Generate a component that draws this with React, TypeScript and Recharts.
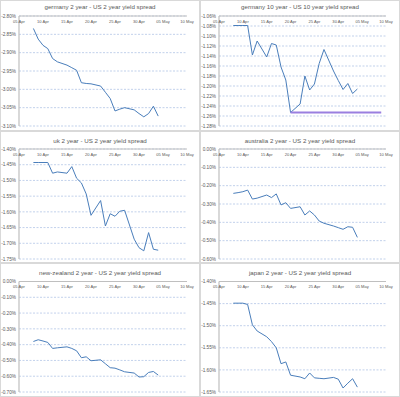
import React from 'react';
import { LineChart, Line, XAxis, YAxis, CartesianGrid } from 'recharts';

// day of April 2020 (31 = 01 May)
const days = [8, 9, 10, 11, 12, 13, 15, 16, 17, 18, 19, 20, 22, 23, 24, 25, 26, 27, 29, 30, 31, 32, 33, 34];
const xTicks = [5, 10, 15, 20, 25, 30, 35, 40];

const germany2y = [-2.834, -2.863, -2.88, -2.889, -2.916, -2.925, -2.934, -2.941, -2.948, -2.982, -2.984, -2.985, -2.991, -3.008, -3.025, -3.059, -3.054, -3.05, -3.056, -3.066, -3.075, -3.066, -3.046, -3.073];
const germany10y = [-1.079, -1.079, -1.079, -1.079, -1.138, -1.11, -1.142, -1.115, -1.118, -1.162, -1.188, -1.253, -1.236, -1.18, -1.208, -1.196, -1.155, -1.127, -1.17, -1.189, -1.207, -1.195, -1.215, -1.206];
const uk2y = [-1.443, -1.443, -1.443, -1.443, -1.477, -1.473, -1.477, -1.456, -1.493, -1.508, -1.543, -1.611, -1.564, -1.645, -1.606, -1.614, -1.598, -1.595, -1.687, -1.714, -1.724, -1.666, -1.719, -1.722];
const australia2y = [-0.242, -0.238, -0.233, -0.224, -0.273, -0.268, -0.251, -0.265, -0.245, -0.305, -0.293, -0.324, -0.315, -0.36, -0.338, -0.36, -0.393, -0.405, -0.42, -0.429, -0.438, -0.424, -0.427, -0.482];
const newZealand2y = [-0.38, -0.369, -0.377, -0.386, -0.424, -0.42, -0.414, -0.424, -0.439, -0.483, -0.477, -0.502, -0.496, -0.521, -0.546, -0.549, -0.56, -0.572, -0.58, -0.605, -0.603, -0.576, -0.57, -0.593];
const japan2y = [-1.449, -1.449, -1.449, -1.452, -1.498, -1.512, -1.525, -1.536, -1.55, -1.586, -1.582, -1.612, -1.616, -1.62, -1.607, -1.618, -1.619, -1.62, -1.617, -1.621, -1.641, -1.63, -1.62, -1.639];

const markerDays = [20, 39];
const markerLevel = [-1.253, -1.253];

const ticksGermany2y = [-2.8, -2.85, -2.9, -2.95, -3.0, -3.05, -3.1];
const ticksGermany10y = [-1.06, -1.08, -1.1, -1.12, -1.14, -1.16, -1.18, -1.2, -1.22, -1.24, -1.26, -1.28];
const ticksUk2y = [-1.4, -1.45, -1.5, -1.55, -1.6, -1.65, -1.7, -1.75];
const ticksAustralia2y = [0, -0.1, -0.2, -0.3, -0.4, -0.5, -0.6];
const ticksNewZealand2y = [0, -0.1, -0.2, -0.3, -0.4, -0.5, -0.6, -0.7];
const ticksJapan2y = [-1.4, -1.45, -1.5, -1.55, -1.6, -1.65];

const titles = [
  'germany 2 year - US 2 year yield spread',
  'germany 10 year - US 10 year yield spread',
  'uk 2 year - US 2 year yield spread',
  'australia 2 year - US 2 year yield spread',
  'new-zealand 2 year - US 2 year yield spread',
  'japan 2 year - US 2 year yield spread',
];

const FONT = '"Liberation Sans", Arial, sans-serif';
const TEXT = '#595959';
const LINE = '#4a7ebb';

const fmtDay = (d: number) => {
  const m = d > 30 ? 'May' : 'Apr';
  const dd = d > 30 ? d - 30 : d;
  return `${String(dd).padStart(2, '0')} ${m}`;
};
const fmtPct = (v: number) => `${v.toFixed(2)}%`;

const toRows = (xs: number[], ys: number[]) => xs.map((d, i) => ({ d, v: ys[i] }));

type PanelProps = {
  title: string;
  values: number[];
  yTicks: number[];
  left: number;
  top: number;
  width: number;
  height: number;
  mt: number;
  mb: number;
  mr: number;
  titleY: number;
  marker?: { d: number; v: number }[];
};

function Panel(p: PanelProps) {
  const data = toRows(days, p.values);
  const ymax = p.yTicks[0];
  const ymin = p.yTicks[p.yTicks.length - 1];
  return (
    <div
      style={{
        position: 'absolute',
        left: p.left,
        top: p.top,
        width: p.width,
        height: p.height,
        boxSizing: 'border-box',
        border: '1px solid #d9d9d9',
        background: '#fff',
      }}
    >
      <div style={{ position: 'absolute', left: -1, top: -1 }}>
        <LineChart
          width={p.width}
          height={p.height}
          margin={{ top: p.mt, right: p.mr, bottom: p.mb, left: 0 }}
        >
          <CartesianGrid
            horizontal
            vertical={false}
            stroke="#a7bde3"
            strokeDasharray="2 1.5"
            strokeWidth={0.7}
          />
          <XAxis
            type="number"
            dataKey="d"
            domain={[5, 40]}
            ticks={xTicks}
            interval={0}
            orientation="top"
            mirror
            tickFormatter={fmtDay}
            tick={{ fontSize: 4.1, fill: TEXT, fontFamily: FONT }}
            tickLine={false}
            tickSize={3}
            tickMargin={1}
            axisLine={{ stroke: '#bfbfbf', strokeWidth: 1 }}
            allowDataOverflow
          />
          <YAxis
            type="number"
            domain={[ymin, ymax]}
            ticks={p.yTicks}
            interval={0}
            tickFormatter={fmtPct}
            tick={{ fontSize: 4.7, fill: TEXT, fontFamily: FONT }}
            tickLine={false}
            tickSize={2}
            tickMargin={1}
            width={19}
            axisLine={{ stroke: '#bfbfbf', strokeWidth: 1.2 }}
            allowDataOverflow
          />
          <Line
            data={data}
            dataKey="v"
            type="linear"
            stroke={LINE}
            strokeWidth={1}
            dot={false}
            isAnimationActive={false}
          />
          {p.marker && (
            <Line
              data={p.marker}
              dataKey="v"
              type="linear"
              stroke="#9a7fe0"
              strokeWidth={2.2}
              dot={false}
              isAnimationActive={false}
            />
          )}
        </LineChart>
      </div>
      <div
        style={{
          position: 'absolute',
          left: 0,
          width: p.width - 2,
          top: p.titleY - 4,
          textAlign: 'center',
          fontFamily: FONT,
          fontSize: 6.2,
          lineHeight: '8px',
          color: TEXT,
          whiteSpace: 'nowrap',
        }}
      >
        {p.title}
      </div>
    </div>
  );
}

export default function App() {
  const marker = toRows(markerDays, markerLevel);
  return (
    <div style={{ position: 'fixed', left: 0, top: 0, width: 400, height: 397, background: '#fff', overflow: 'hidden' }}>
      <Panel title={titles[0]} values={germany2y} yTicks={ticksGermany2y} left={0} top={0} width={200} height={131} mt={16} mb={5} mr={13} titleY={5.5} />
      <Panel title={titles[1]} values={germany10y} yTicks={ticksGermany10y} left={200} top={0} width={200} height={131} mt={16} mb={5} mr={14} titleY={5.5} marker={marker} />
      <Panel title={titles[2]} values={uk2y} yTicks={ticksUk2y} left={0} top={131} width={200} height={132} mt={18} mb={4} mr={13} titleY={8.5} />
      <Panel title={titles[3]} values={australia2y} yTicks={ticksAustralia2y} left={200} top={131} width={200} height={132} mt={18} mb={4} mr={14} titleY={8.5} />
      <Panel title={titles[4]} values={newZealand2y} yTicks={ticksNewZealand2y} left={0} top={263} width={200} height={134} mt={18.5} mb={5} mr={13} titleY={9} />
      <Panel title={titles[5]} values={japan2y} yTicks={ticksJapan2y} left={200} top={263} width={200} height={134} mt={18.5} mb={5} mr={14} titleY={9} />
    </div>
  );
}
